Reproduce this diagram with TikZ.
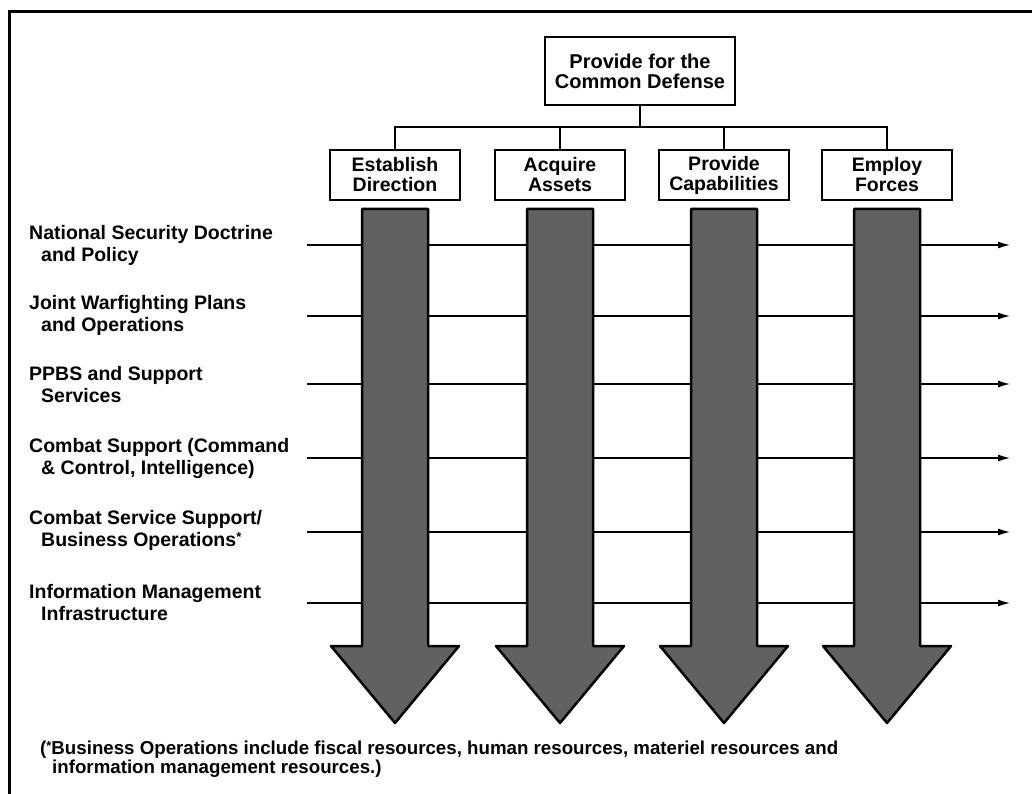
\documentclass[tikz,border=0pt]{standalone}
\usepackage{fontspec}
\setmainfont{Liberation Sans}
\usetikzlibrary{arrows.meta}
\newcommand{\ind}{\hspace*{12pt}}
\newcommand{\astr}{\raisebox{5pt}{\fontsize{13}{13}\selectfont *}}
\begin{document}
\begin{tikzpicture}[x=1pt,y=-1pt,
  topbox/.style={draw,line width=2pt,minimum width=190,minimum height=68,align=center,inner sep=2pt,
    font=\bfseries\fontsize{20}{20}\selectfont},
  headbox/.style={draw,line width=2pt,minimum width=130,minimum height=50,align=center,inner sep=2pt,
    font=\bfseries\fontsize{19.5}{20}\selectfont},
  rowlabel/.style={anchor=west,align=left,inner sep=0pt,font=\bfseries\fontsize{19.5}{22}\selectfont},
  rowline/.style={line width=2pt,-{Latex[length=13pt,width=7pt]}},
  conn/.style={line width=2pt},
  bigarrow/.style={draw=black,line width=2.5pt,line join=round,fill=black!62},
  foot/.style={anchor=west,align=left,inner sep=0pt,font=\bfseries\fontsize{18.7}{18}\selectfont}]
\useasboundingbox (0,0) rectangle (1032,794);
\begin{scope}
  \clip (0,0) rectangle (1032,794);
  \draw[line width=3pt] (9,800) -- (9,12) -- (1040,12);
\end{scope}
% top box and headers
\node[topbox] (top) at (640,71) {Provide for the\\Common Defense};
\node[headbox] (h1) at (395,175) {Establish\\Direction};
\node[headbox] (h2) at (560,175) {Acquire\\Assets};
\node[headbox] (h3) at (724,175) {Provide\\Capabilities};
\node[headbox] (h4) at (887,175) {Employ\\Forces};
\coordinate (bar) at (640,127);
\draw[conn] (top.south) -- (bar);
\draw[conn] (bar) -| (h1.north);
\draw[conn] (bar) -| (h2.north);
\draw[conn] (bar) -| (h3.north);
\draw[conn] (bar) -| (h4.north);
% row labels
\node[rowlabel] (r1) at (29,245) {National Security Doctrine\\\ind and Policy};
\node[rowlabel] (r2) at (29,315) {Joint Warfighting Plans\\\ind and Operations};
\node[rowlabel] (r3) at (29,385) {PPBS and Support\\\ind Services};
\node[rowlabel] (r4) at (29,458) {Combat Support (Command\\\ind \& Control, Intelligence)};
\node[rowlabel] (r5) at (29,530) {Combat Service Support/\\\ind Business Operations\astr};
\node[rowlabel] (r6) at (29,603) {Information Management\\\ind Infrastructure};
% row lines
\foreach \i/\y in {1/245,2/316,3/384,4/458,5/532,6/603}{
  \coordinate (s\i) at (307,\y);
  \coordinate (e\i) at (1011,\y);
  \draw[rowline] (s\i) -- (e\i);
}
% big arrows
\foreach \c in {395,560,724,887}{
  \draw[bigarrow] ({\c-33},209) -- ({\c+33},209) -- ({\c+33},646) -- ({\c+64},646)
     -- (\c,723) -- ({\c-64},646) -- ({\c-33},646) -- cycle;
}
% footnote
\node[foot] (fn) at (40,759) {(\astr Business Operations include fiscal resources, human resources, materiel resources and\\\hspace*{12pt}information management resources.)};
\end{tikzpicture}
\end{document}
